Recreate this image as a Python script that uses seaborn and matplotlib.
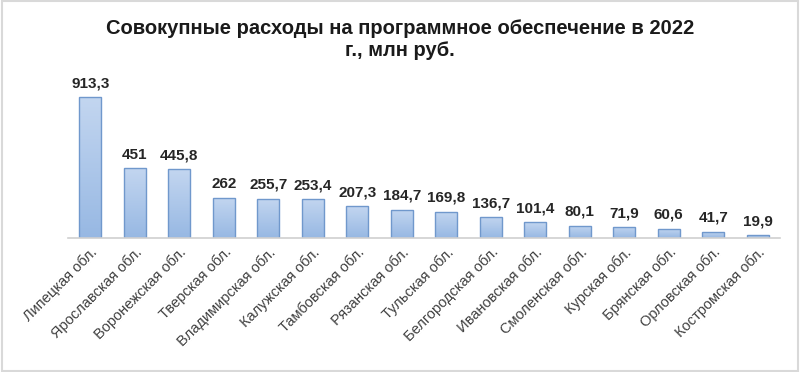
import numpy as np
import pandas as pd
import seaborn as sns
import matplotlib.pyplot as plt
from matplotlib.colors import LinearSegmentedColormap
from matplotlib.patches import Rectangle

regions = ['Липецкая обл.', 'Ярославская обл.', 'Воронежская обл.', 'Тверская обл.',
           'Владимирская обл.', 'Калужская обл.', 'Тамбовская обл.', 'Рязанская обл.',
           'Тульская обл.', 'Белгородская обл.', 'Ивановская обл.', 'Смоленская обл.',
           'Курская обл.', 'Брянская обл.', 'Орловская обл.', 'Костромская обл.']
spend = [913.3, 451, 445.8, 262, 255.7, 253.4, 207.3, 184.7,
         169.8, 136.7, 101.4, 80.1, 71.9, 60.6, 41.7, 19.9]
value_labels = ['913,3', '451', '445,8', '262', '255,7', '253,4', '207,3', '184,7',
                '169,8', '136,7', '101,4', '80,1', '71,9', '60,6', '41,7', '19,9']

df = pd.DataFrame({'region': regions, 'spend': spend})

sns.set_style('white')
plt.rcParams['font.family'] = ['Liberation Sans', 'DejaVu Sans']

fig = plt.figure(figsize=(8, 3.72), dpi=100)
ax = fig.add_axes([0.085, 0.36, 0.89, 0.438])

sns.barplot(data=df, x='region', y='spend', color='#a9c4ea', width=0.5,
            edgecolor='#7098cc', linewidth=1.0, ax=ax)

# vertical gradient inside each bar
cmap = LinearSegmentedColormap.from_list('bar', ['#97b8e3', '#c3d6f0'])
grad = np.linspace(0, 1, 256).reshape(-1, 1)
for p in ax.patches:
    x0, w, h = p.get_x(), p.get_width(), p.get_height()
    im = ax.imshow(grad, cmap=cmap, origin='lower', aspect='auto',
                   extent=[x0, x0 + w, 0, h], zorder=p.get_zorder() - 0.1)
    im.set_clip_path(p)
    p.set_facecolor('none')

for i, (v, lab) in enumerate(zip(spend, value_labels)):
    ax.text(i, v + 45, lab, ha='center', va='bottom', fontsize=11,
            fontweight='bold', color='#262626')

ax.set_xlim(-0.5, len(regions) - 0.5)
ax.set_ylim(0, 1056)
ax.set_xlabel('')
ax.set_ylabel('')
ax.set_yticks([])
for s in ['top', 'right', 'left']:
    ax.spines[s].set_visible(False)
ax.spines['bottom'].set_color('#d0d0d0')
ax.spines['bottom'].set_linewidth(1.2)
ax.tick_params(axis='x', length=0, pad=5)
plt.setp(ax.get_xticklabels(), rotation=45, ha='right', rotation_mode='anchor',
         fontsize=10.5, color='#404040')

fig.text(0.5, 0.895, 'Совокупные расходы на программное обеспечение в 2022\nг., млн руб.',
         ha='center', va='center', fontsize=14.5, fontweight='bold',
         color='#1a1a1a', linespacing=1.2)

fig.patches.append(Rectangle((0.002, 0.003), 0.996, 0.994, transform=fig.transFigure,
                             fill=False, edgecolor='#d9d9d9', linewidth=1.5))

fig.savefig('out.png', dpi=100)
